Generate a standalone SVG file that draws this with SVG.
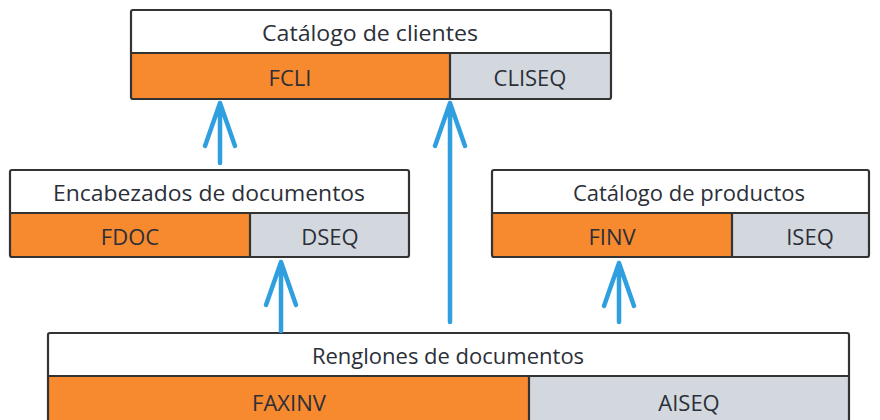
<svg xmlns="http://www.w3.org/2000/svg" width="880" height="420" viewBox="0 0 880 420">
<style>
.frame{fill:none;stroke:#333;stroke-width:2.2}
.title{fill:#fff}
.key{fill:#F7892F}
.seq{fill:#D3D7DE}
.div{stroke:#333;stroke-width:2.2}
text{font-family:"Open Sans","Noto Sans",sans-serif;font-size:22px;fill:#2b2f38;text-anchor:middle;dominant-baseline:central}
.arrow{fill:none;stroke:#2F9FE0;stroke-width:4.5;stroke-linecap:round;stroke-linejoin:round}
</style>
<rect width="880" height="420" fill="#fff"/>
<g id="clientes">
<rect class="title" x="131" y="10" width="480" height="43"/>
<rect class="key" x="131" y="53" width="319" height="46"/>
<rect class="seq" x="450" y="53" width="161" height="46"/>
<line class="div" x1="131" y1="53" x2="611" y2="53"/>
<line class="div" x1="450" y1="53" x2="450" y2="99"/>
<rect class="frame" x="131" y="10" width="480" height="89" rx="2"/>
<text x="370" y="32" textLength="216" lengthAdjust="spacingAndGlyphs">Catálogo de clientes</text>
<text x="290" y="77">FCLI</text>
<text x="530" y="77">CLISEQ</text>
</g>
<g id="encabezados">
<rect class="title" x="10" y="170" width="399" height="43"/>
<rect class="key" x="10" y="213" width="240" height="44"/>
<rect class="seq" x="250" y="213" width="159" height="44"/>
<line class="div" x1="10" y1="213" x2="409" y2="213"/>
<line class="div" x1="250" y1="213" x2="250" y2="257"/>
<rect class="frame" x="10" y="170" width="399" height="87" rx="2"/>
<text x="209" y="192" textLength="312" lengthAdjust="spacingAndGlyphs">Encabezados de documentos</text>
<text x="130" y="236">FDOC</text>
<text x="330" y="236">DSEQ</text>
</g>
<g id="productos">
<rect class="title" x="492" y="170" width="377" height="43"/>
<rect class="key" x="492" y="213" width="240" height="44"/>
<rect class="seq" x="732" y="213" width="137" height="44"/>
<line class="div" x1="492" y1="213" x2="869" y2="213"/>
<line class="div" x1="732" y1="213" x2="732" y2="257"/>
<rect class="frame" x="492" y="170" width="377" height="87" rx="2"/>
<text x="689" y="192">Catálogo de productos</text>
<text x="612" y="236">FINV</text>
<text x="810" y="236">ISEQ</text>
</g>
<g id="renglones">
<rect class="title" x="48" y="333" width="801" height="43"/>
<rect class="key" x="48" y="376" width="481" height="50"/>
<rect class="seq" x="529" y="376" width="320" height="50"/>
<line class="div" x1="48" y1="376" x2="849" y2="376"/>
<line class="div" x1="529" y1="376" x2="529" y2="426"/>
<rect class="frame" x="48" y="333" width="801" height="93" rx="2"/>
<text x="448" y="355">Renglones de documentos</text>
<text x="289" y="402">FAXINV</text>
<text x="689" y="402">AISEQ</text>
</g>
<g id="connectors">
<path class="arrow" d="M220 163 V103 M205 146 L220 103 L235 146"/>
<path class="arrow" d="M450 322 V103 M435 146 L450 103 L465 146"/>
<path class="arrow" d="M281 331 V262 M266 305 L281 262 L296 305"/>
<path class="arrow" d="M619 322 V263 M604 306 L619 263 L634 306"/>
</g>
</svg>
